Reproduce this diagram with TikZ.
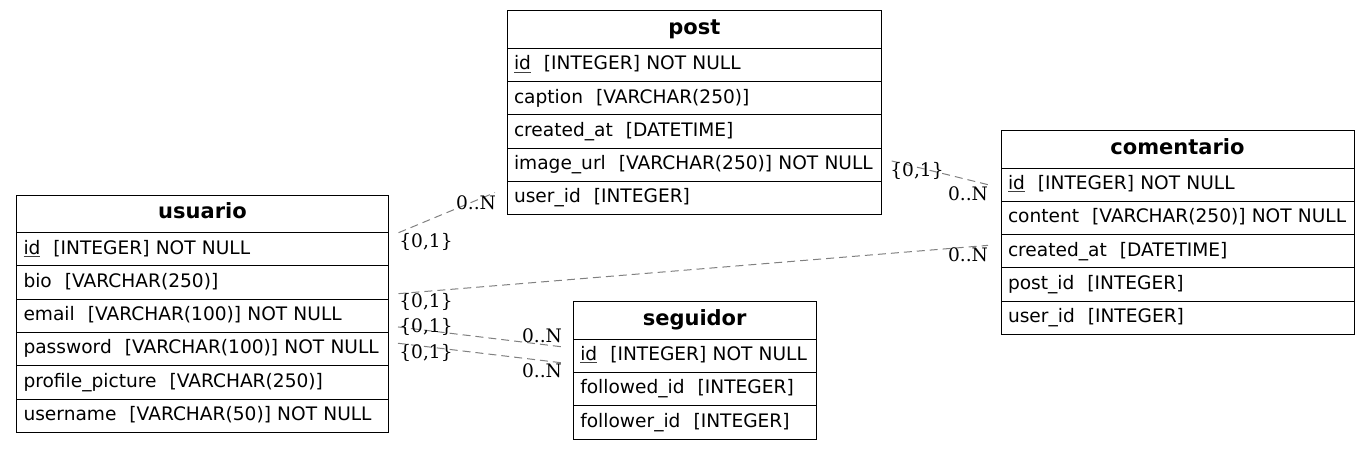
\documentclass[tikz,border=0pt]{standalone}
\usepackage{fontspec}
\setmainfont{DejaVu Sans}
\newfontfamily\lblfont{DejaVu Serif}
\usetikzlibrary{calc}
\newcommand\fld[2]{\mbox{#1\hspace{13pt}#2}}
\newcommand\pk[1]{\setbox0\hbox{#1}\rlap{\textcolor{darkgray}{\rule[-2.8pt]{\wd0}{0.9pt}}}\box0}
\tikzset{
 tb/.style={draw=black, line width=1pt, rectangle, inner sep=0pt, outer sep=0pt, text height=14pt, text depth=4.6pt},
 hd/.style={tb, minimum height=37.4pt, minimum width=#1, font=\fontsize{21}{24}\selectfont\bfseries, anchor=north west},
 rw/.style={tb, minimum height=33.3pt, text width=#1, inner xsep=7pt, align=left, font=\fontsize{18.6}{22}\selectfont, anchor=north west},
 rel/.style={draw=gray, line width=1pt, dash pattern=on 8pt off 5pt},
 card/.style={font=\lblfont\fontsize{18.6}{22}\selectfont, inner sep=0pt},
}
\begin{document}
\begin{tikzpicture}[x=1pt,y=-1pt]
\useasboundingbox (0,0) rectangle (1369,449);
% usuario
\node[hd=372pt] (uh) at (16.5,195.3) {usuario};
\node[rw=358pt] (uid) at (uh.south west) {\fld{\pk{id}}{[INTEGER] NOT NULL}};
\node[rw=358pt] (ubio) at (uid.south west) {\fld{bio}{[VARCHAR(250)]}};
\node[rw=358pt] (uemail) at (ubio.south west) {\fld{email}{[VARCHAR(100)] NOT NULL}};
\node[rw=358pt] (upass) at (uemail.south west) {\fld{password}{[VARCHAR(100)] NOT NULL}};
\node[rw=358pt] (upic) at (upass.south west) {\fld{profile\_picture}{[VARCHAR(250)]}};
\node[rw=358pt] (uname) at (upic.south west) {\fld{username}{[VARCHAR(50)] NOT NULL}};
% post
\node[hd=374.7pt] (ph) at (507,11) {post};
\node[rw=360.7pt] (pid) at (ph.south west) {\fld{\pk{id}}{[INTEGER] NOT NULL}};
\node[rw=360.7pt] (pcap) at (pid.south west) {\fld{caption}{[VARCHAR(250)]}};
\node[rw=360.7pt] (pcre) at (pcap.south west) {\fld{created\_at}{[DATETIME]}};
\node[rw=360.7pt] (pimg) at (pcre.south west) {\fld{image\_url}{[VARCHAR(250)] NOT NULL}};
\node[rw=360.7pt] (puser) at (pimg.south west) {\fld{user\_id}{[INTEGER]}};
% comentario
\node[hd=353pt] (ch) at (1001,130.7) {comentario};
\node[rw=339pt] (cid) at (ch.south west) {\fld{\pk{id}}{[INTEGER] NOT NULL}};
\node[rw=339pt] (ccon) at (cid.south west) {\fld{content}{[VARCHAR(250)] NOT NULL}};
\node[rw=339pt] (ccre) at (ccon.south west) {\fld{created\_at}{[DATETIME]}};
\node[rw=339pt] (cpost) at (ccre.south west) {\fld{post\_id}{[INTEGER]}};
\node[rw=339pt] (cuser) at (cpost.south west) {\fld{user\_id}{[INTEGER]}};
% seguidor
\node[hd=242.7pt] (sh) at (573.3,301.7) {seguidor};
\node[rw=228.7pt] (sid) at (sh.south west) {\fld{\pk{id}}{[INTEGER] NOT NULL}};
\node[rw=228.7pt] (sfed) at (sid.south west) {\fld{followed\_id}{[INTEGER]}};
\node[rw=228.7pt] (sfer) at (sfed.south west) {\fld{follower\_id}{[INTEGER]}};
% connector ends
\coordinate (a1) at ($(uh.south east)+(10,0)$);
\coordinate (b1) at ($(puser.west)+(-12,-5.7)$);
\coordinate (a2) at ($(ubio.east)+(10,11)$);
\coordinate (b2) at ($(ccre.west)+(-13,-6)$);
\coordinate (a3) at ($(uemail.east)+(9.5,11)$);
\coordinate (b3) at ($(sid.west)+(-10.3,-8.8)$);
\coordinate (a4) at ($(upass.east)+(9.5,-6)$);
\coordinate (b4) at ($(sid.west)+(-10.3,7.2)$);
\coordinate (a5) at ($(pimg.east)+(10,-4)$);
\coordinate (b5) at ($(cid.west)+(-12.7,0)$);
\draw[rel] (a1) -- (b1);
\draw[rel] (a2) -- (b2);
\draw[rel] (a3) -- (b3);
\draw[rel] (a4) -- (b4);
\draw[rel] (a5) -- (b5);
% cardinalities
\node[card] (l1a) at (426,242) {\{0,1\}};
\node[card] (l1b) at (476,203) {0..N};
\node[card] (l2a) at (426,302) {\{0,1\}};
\node[card] (l2b) at (968,255) {0..N};
\node[card] (l3a) at (426,327) {\{0,1\}};
\node[card] (l3b) at (542,336) {0..N};
\node[card] (l4a) at (426,353) {\{0,1\}};
\node[card] (l4b) at (542,371) {0..N};
\node[card] (l5a) at (917,171) {\{0,1\}};
\node[card] (l5b) at (968,194) {0..N};
\end{tikzpicture}
\end{document}
